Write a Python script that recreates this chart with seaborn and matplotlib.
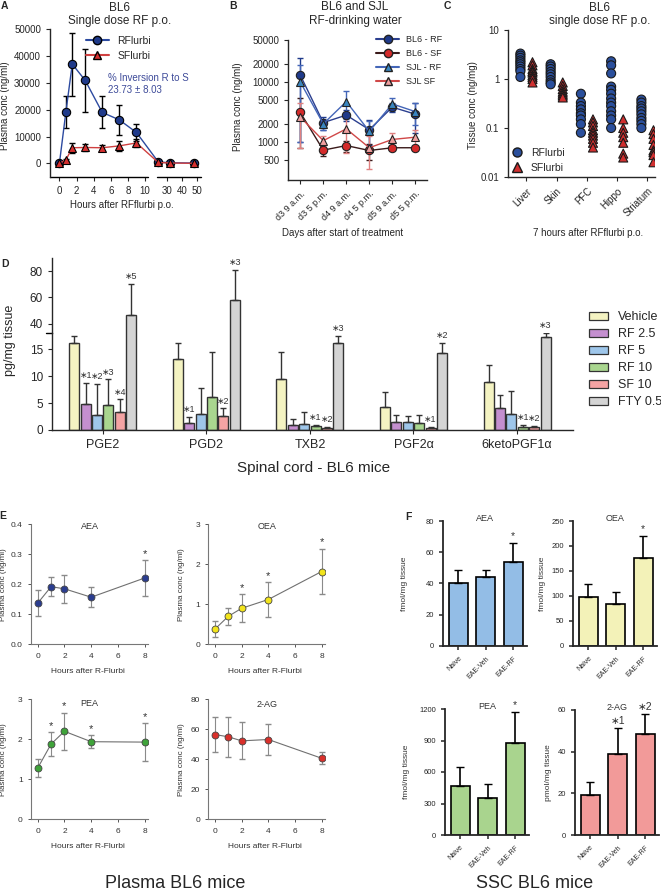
import numpy as np
import pandas as pd
import matplotlib
matplotlib.use("Agg")
import matplotlib.pyplot as plt
import seaborn as sns
from matplotlib.lines import Line2D
from matplotlib.patches import Patch
from matplotlib.ticker import NullLocator

sns.set_style("ticks")
plt.rcParams["font.family"] = ["Liberation Sans", "DejaVu Sans"]
plt.rcParams["axes.linewidth"] = 1.0
plt.rcParams["xtick.major.size"] = 3
plt.rcParams["ytick.major.size"] = 3

# ---- A: single dose, plasma ----
hours_a = [0, 0.75, 1.5, 3, 5, 7, 9, 24, 32, 48]
rf_a = [0, 19000, 37000, 31000, 19000, 16200, 11500, 500, 200, 100]
rf_a_sd = [300, 6000, 11800, 11700, 6000, 5700, 3000, 300, 200, 100]
sf_a = [0, 1200, 5800, 5900, 5800, 6500, 7600, 300, 100, 0]
sf_a_sd = [200, 500, 1800, 1200, 1200, 1800, 1500, 200, 100, 50]

# ---- B: drinking water ----
times_b = ["d3 9 a.m.", "d3 5 p.m.", "d4 9 a.m.", "d4 5 p.m.", "d5 9 a.m.", "d5 5 p.m."]
bl6_rf = [13000, 2100, 2800, 1600, 3800, 2900]
bl6_rf_sd = [12000, 500, 600, 700, 600, 1500]
bl6_sf = [3100, 730, 870, 720, 800, 800]
bl6_sf_sd = [2300, 150, 180, 220, 60, 60]
sjl_rf = [10000, 2000, 4700, 1500, 4300, 3200]
sjl_rf_sd = [9000, 400, 2300, 700, 1000, 1300]
sjl_sf = [2600, 1050, 1650, 800, 1100, 1200]
sjl_sf_sd = [1800, 200, 1000, 450, 300, 400]

# ---- C: tissue, 7 h ----
tissues = ["Liver", "Skin", "PFC", "Hippo", "Striatum"]
liver_r = [3.3, 3.0, 2.7, 2.4, 2.2, 2.0, 1.8, 1.6, 1.45, 1.1]
liver_s = [2.2, 1.9, 1.6, 1.45, 1.35, 1.2, 1.1, 1.0, 0.85]
skin_r = [2.0, 1.8, 1.6, 1.4, 1.25, 1.1, 0.95, 0.85, 0.78]
skin_s = [0.85, 0.72, 0.62, 0.55, 0.5, 0.46, 0.42]
pfc_r = [0.5, 0.33, 0.28, 0.24, 0.2, 0.18, 0.15, 0.12, 0.08]
pfc_s = [0.15, 0.13, 0.11, 0.09, 0.08, 0.07, 0.06, 0.05, 0.04]
hippo_r = [2.3, 1.9, 1.3, 0.7, 0.6, 0.5, 0.4, 0.33, 0.28, 0.22, 0.18, 0.15, 0.1]
hippo_s = [0.15, 0.1, 0.08, 0.065, 0.05, 0.03, 0.025]
striatum_r = [0.38, 0.33, 0.28, 0.25, 0.22, 0.19, 0.16, 0.14, 0.12, 0.1]
striatum_s = [0.09, 0.075, 0.06, 0.045, 0.035, 0.032, 0.028, 0.02]

# ---- D: spinal cord prostanoids ----
analytes = ["PGE2", "PGD2", "TXB2", "PGF2α", "6ketoPGF1α"]
treatments = ["Vehicle", "RF 2.5", "RF 5", "RF 10", "SF 10", "FTY 0.5"]
d_vehicle = [16.2, 13.1, 9.4, 4.2, 9.0]
d_rf25 = [4.8, 1.3, 1.0, 1.5, 4.0]
d_rf5 = [2.8, 2.9, 1.2, 1.4, 3.0]
d_rf10 = [4.7, 6.1, 0.7, 1.3, 0.5]
d_sf10 = [3.4, 2.6, 0.4, 0.4, 0.5]
d_fty = [46.8, 58.0, 16.2, 14.2, 17.3]
d_vehicle_sd = [1.2, 3.1, 5.0, 2.8, 3.0]
d_rf25_sd = [3.9, 1.2, 1.1, 1.3, 2.5]
d_rf5_sd = [5.8, 4.9, 2.2, 1.2, 4.3]
d_rf10_sd = [4.7, 8.3, 0.3, 1.5, 0.4]
d_sf10_sd = [2.3, 1.4, 0.2, 0.2, 0.2]
d_fty_sd = [23.3, 22.8, 1.2, 2.0, 0.7]
d_vehicle_star = ["", "", "", "", ""]
d_rf25_star = ["∗1", "∗1", "", "", ""]
d_rf5_star = ["∗2", "", "", "", ""]
d_rf10_star = ["∗3", "", "∗1", "", "∗1"]
d_sf10_star = ["∗4", "∗2", "∗2", "∗1", "∗2"]
d_fty_star = ["∗5", "∗3", "∗3", "∗2", "∗3"]

# ---- E: plasma endocannabinoids ----
hours_e = [0, 1, 2, 4, 8]
aea_e = [0.137, 0.192, 0.185, 0.157, 0.221]
aea_e_sd = [0.043, 0.032, 0.046, 0.033, 0.059]
aea_e_star = ["", "", "", "", "*"]
oea_e = [0.38, 0.70, 0.90, 1.12, 1.82]
oea_e_sd = [0.20, 0.22, 0.35, 0.43, 0.57]
oea_e_star = ["", "", "*", "*", "*"]
pea_e = [1.28, 1.88, 2.20, 1.94, 1.93]
pea_e_sd = [0.22, 0.30, 0.46, 0.16, 0.47]
pea_e_star = ["", "*", "*", "*", "*"]
ag_e = [56.5, 55.0, 52.3, 53.2, 40.7]
ag_e_sd = [11.8, 13.2, 12.3, 10.5, 4.0]
ag_e_star = ["", "", "", "", ""]

# ---- F: SSC endocannabinoids ----
groups_f = ["Naive", "EAE-Veh", "EAE-RF"]
aea_f = [40, 44, 54]
aea_f_sd = [8.5, 4.5, 12]
aea_f_star = ["", "", "*"]
oea_f = [98, 84, 175]
oea_f_sd = [26, 24, 44]
oea_f_star = ["", "", "*"]
pea_f = [462, 348, 875]
pea_f_sd = [185, 135, 292]
pea_f_star = ["", "", "*"]
ag_f = [19, 39, 48.6]
ag_f_sd = [6.4, 12.5, 9.6]
ag_f_star = ["", "∗1", "∗2"]

W, H = 661, 891
fig = plt.figure(figsize=(W / 100, H / 100), dpi=100)


def place(l, t, r, b):
    return fig.add_axes([l / W, 1 - b / H, (r - l) / W, (b - t) / H])


def ftext(x, y, s, **kw):
    kw.setdefault("ha", "center")
    kw.setdefault("va", "center")
    fig.text(x / W, 1 - y / H, s, **kw)


def anchor(x, y):
    return (x / W, 1 - y / H)


def clean(ax):
    ax.spines[["top", "right"]].set_visible(False)
    ax.set_xlabel("")
    ax.set_ylabel("")


# ================= A =================
axA = place(50, 29.3, 201, 176.7)
for y, sd, mk, fc, lc in [(rf_a, rf_a_sd, "o", "#1f3a8a", "#2c4aa0"),
                          (sf_a, sf_a_sd, "^", "#d63030", "#d04040")]:
    axA.errorbar(hours_a, y, yerr=sd, fmt="none", ecolor="black", elinewidth=1, capsize=2.5, zorder=2)
    sns.lineplot(x=hours_a, y=y, color=lc, marker=mk, markersize=6, markerfacecolor=fc,
                 markeredgecolor="black", markeredgewidth=0.8, lw=1, ax=axA, zorder=3)


def fwd(t):
    t = np.asarray(t, float)
    return np.where(t <= 10.4, t, np.where(t <= 23, 10.4 + (t - 10.4) * 0.0778, 11.38 + (t - 23) * 0.175))


def inv(u):
    u = np.asarray(u, float)
    return np.where(u <= 10.4, u, np.where(u <= 11.38, 10.4 + (u - 10.4) / 0.0778, 23 + (u - 11.38) / 0.175))


axA.set_xscale("function", functions=(fwd, inv))
axA.set_xlim(-1.1, 52.5)
axA.set_ylim(-5000, 50000)
axA.set_xticks([0, 2, 4, 6, 8, 10, 30, 40, 50])
axA.set_xticklabels(["0", "2", "4", "6", "8", "10", "30", "40", "50"])
axA.xaxis.set_minor_locator(NullLocator())
axA.set_yticks([0, 10000, 20000, 30000, 40000, 50000])
axA.tick_params(labelsize=7)
clean(axA)
axA.spines["bottom"].set_visible(False)
for seg in ([-1.1, 10.4], [23, 52.5]):
    axA.plot(seg, [0, 0], transform=axA.get_xaxis_transform(), color="black", lw=1, clip_on=False)
axA.legend(handles=[Line2D([], [], color="#2c4aa0", marker="o", markerfacecolor="#1f3a8a", markeredgecolor="black", markersize=6),
                    Line2D([], [], color="#d04040", marker="^", markerfacecolor="#d63030", markeredgecolor="black", markersize=6)],
           labels=["RFlurbi", "SFlurbi"], loc="upper left", bbox_to_anchor=anchor(86, 36),
           bbox_transform=fig.transFigure, frameon=False, fontsize=7.5, handlelength=2.2,
           borderpad=0, borderaxespad=0, labelspacing=0.45, handletextpad=0.8)
ftext(108, 78, "% Inversion R to S", ha="left", color="#3d4a99", fontsize=7)
ftext(108, 90, "23.73 ± 8.03", ha="left", color="#3d4a99", fontsize=7)
ftext(120, 8, "BL6", fontsize=8.5)
ftext(120, 21, "Single dose RF p.o.", fontsize=8.5)
ftext(122, 205, "Hours after RFflurbi p.o.", fontsize=7)
ftext(5, 106, "Plasma conc (ng/ml)", rotation=90, fontsize=7)
ftext(4, 6, "A", fontsize=7.5, fontweight="bold")

# ================= B =================
axB = place(288.3, 40, 427.3, 180)
idx_b = list(range(len(times_b)))
b_series = [(bl6_rf, bl6_rf_sd, "o", "#1f3a8a", "#2b3f8f", "#1f3a8a"),
            (bl6_sf, bl6_sf_sd, "o", "#d42a2a", "#3a1a1a", "#3a1a1a"),
            (sjl_rf, sjl_rf_sd, "^", "#3a86c0", "#4466b8", "#4466b8"),
            (sjl_sf, sjl_sf_sd, "^", "#f0a0a0", "#d04848", "#e08080")]
for y, sd, mk, fc, lc, ec in b_series:
    axB.errorbar(idx_b, y, yerr=sd, fmt="none", ecolor=ec, elinewidth=1, capsize=2, zorder=2)
    sns.lineplot(x=idx_b, y=y, color=lc, marker=mk, markersize=6, markerfacecolor=fc,
                 markeredgecolor="#222222", markeredgewidth=0.8, lw=1, ax=axB, zorder=3)
axB.set_yscale("log")
axB.set_ylim(232, 50000)
axB.set_xlim(-0.52, 5.52)
yt_b = [500, 1000, 2000, 5000, 10000, 20000, 50000]
axB.set_yticks(yt_b)
axB.set_yticklabels([str(v) for v in yt_b])
axB.yaxis.set_minor_locator(NullLocator())
axB.set_xticks(idx_b)
axB.set_xticklabels(times_b, rotation=45, ha="right", rotation_mode="anchor", fontsize=6.5)
axB.tick_params(axis="y", labelsize=7)
clean(axB)
axB.legend(handles=[Line2D([], [], color=lc, marker=mk, markerfacecolor=fc, markeredgecolor="#222222", markersize=6)
                    for _, _, mk, fc, lc, _ in b_series],
           labels=["BL6 - RF", "BL6 - SF", "SJL - RF", "SJL SF"], loc="upper left",
           bbox_to_anchor=anchor(376, 35), bbox_transform=fig.transFigure, frameon=False,
           fontsize=6.5, handlelength=2.6, borderpad=0, borderaxespad=0, labelspacing=0.55, handletextpad=0.7)
ftext(355, 7, "BL6 and SJL", fontsize=8.5)
ftext(355, 21, "RF-drinking water", fontsize=8.5)
ftext(343, 233, "Days after start of treatment", fontsize=7)
ftext(238, 107, "Plasma conc (ng/ml)", rotation=90, fontsize=7)
ftext(233, 6, "B", fontsize=7.5, fontweight="bold")

# ================= C =================
axC = place(508.3, 30, 655, 177)
rows = []
for t, r, s in zip(tissues, [liver_r, skin_r, pfc_r, hippo_r, striatum_r],
                   [liver_s, skin_s, pfc_s, hippo_s, striatum_s]):
    rows += [(t, "RFlurbi", v) for v in r] + [(t, "SFlurbi", v) for v in s]
dfc = pd.DataFrame(rows, columns=["tissue", "drug", "conc"])
c_pal = {"RFlurbi": "#2a4f9c", "SFlurbi": "#d03030"}
for drug, mk in [("RFlurbi", "o"), ("SFlurbi", "^")]:
    sns.stripplot(data=dfc[dfc.drug == drug], x="tissue", y="conc", hue="drug", order=tissues,
                  hue_order=["RFlurbi", "SFlurbi"], palette=c_pal, dodge=True, jitter=False,
                  marker=mk, size=6.5, linewidth=0.8, edgecolor="#1a1a1a", legend=False, ax=axC)
axC.set_yscale("log")
axC.set_ylim(0.01, 10)
axC.set_xlim(-0.6, 4.25)
axC.set_yticks([0.01, 0.1, 1, 10])
axC.set_yticklabels(["0.01", "0.1", "1", "10"])
axC.yaxis.set_minor_locator(NullLocator())
axC.set_xticks(range(len(tissues)))
axC.set_xticklabels(tissues, rotation=45, ha="right", rotation_mode="anchor", fontsize=7)
axC.tick_params(axis="y", labelsize=7)
clean(axC)
axC.legend(handles=[Line2D([], [], ls="none", marker="o", markerfacecolor="#2a4f9c", markeredgecolor="#1a1a1a", markersize=6.5),
                    Line2D([], [], ls="none", marker="^", markerfacecolor="#d03030", markeredgecolor="#1a1a1a", markersize=6.5)],
           labels=["RFlurbi", "SFlurbi"], loc="upper left", bbox_to_anchor=anchor(512, 148),
           bbox_transform=fig.transFigure, frameon=False, fontsize=7.5, handlelength=1,
           borderpad=0, borderaxespad=0, labelspacing=0.44, handletextpad=0.8)
ftext(600, 8, "BL6", fontsize=8.5)
ftext(600, 21, "single dose RF p.o.", fontsize=8.5)
ftext(588, 233, "7 hours after RFflurbi p.o.", fontsize=7)
ftext(473, 105, "Tissue conc (ng/mg)", rotation=90, fontsize=7)
ftext(447, 6, "C", fontsize=7.5, fontweight="bold")

# ================= D =================
d_vals = [d_vehicle, d_rf25, d_rf5, d_rf10, d_sf10, d_fty]
d_sds = [d_vehicle_sd, d_rf25_sd, d_rf5_sd, d_rf10_sd, d_sf10_sd, d_fty_sd]
d_stars = [d_vehicle_star, d_rf25_star, d_rf5_star, d_rf10_star, d_sf10_star, d_fty_star]
d_colors = ["#f4f3c2", "#c48fcf", "#9ec6ea", "#a9d68f", "#f4a3a3", "#d4d4d4"]
dfd = pd.DataFrame([(a, t, v) for t, vals in zip(treatments, d_vals) for a, v in zip(analytes, vals)],
                   columns=["analyte", "treatment", "value"])
axDl = place(52, 333, 573, 430)
axDu = place(52, 258, 573, 333)
for ax in (axDu, axDl):
    sns.barplot(data=dfd, x="analyte", y="value", hue="treatment", order=analytes, hue_order=treatments,
                palette=d_colors, saturation=1, width=0.66, gap=0.12, edgecolor="#333333",
                linewidth=1, errorbar=None, legend=False, ax=ax)
    bars = sorted(ax.patches, key=lambda p: p.get_x())
    for k, p in enumerate(bars):
        i, j = divmod(k, len(treatments))
        xc = p.get_x() + p.get_width() / 2
        v, sd = d_vals[j][i], d_sds[j][i]
        ax.errorbar([xc], [v], yerr=[[0], [sd]], fmt="none", ecolor="#333333", elinewidth=1, capsize=2.5)
        top = v + sd
        if d_stars[j][i] and ((top > 18) == (ax is axDu)):
            ax.annotate(d_stars[j][i], (xc, top), xytext=(0, 2), textcoords="offset points",
                        ha="center", va="bottom", fontsize=6.5, color="#333333", annotation_clip=False)
    clean(ax)
    ax.set_xlim(-0.49, 4.54)
axDl.set_ylim(0, 18)
axDl.set_yticks([0, 5, 10, 15])
axDl.tick_params(axis="y", labelsize=8.5)
axDl.tick_params(axis="x", labelsize=9)
axDl.spines["top"].set_visible(False)
axDl.plot([-0.012, 0], [1, 1], transform=axDl.transAxes, color="black", lw=1, clip_on=False)
axDu.set_ylim(33, 90)
axDu.set_yticks([40, 60, 80])
axDu.tick_params(axis="y", labelsize=8.5)
axDu.set_xticks([])
axDu.spines["bottom"].set_visible(False)
axDu.patch.set_alpha(0)
axDl.legend(handles=[Patch(facecolor=c, edgecolor="#333333", lw=0.9) for c in d_colors], labels=treatments,
            loc="upper left", bbox_to_anchor=anchor(589, 311), bbox_transform=fig.transFigure,
            frameon=False, fontsize=9, handlelength=1.5, handleheight=0.6, borderpad=0,
            borderaxespad=0, labelspacing=0.4, handletextpad=0.8)
ftext(314, 468, "Spinal cord - BL6 mice", fontsize=11)
ftext(10, 340, "pg/mg tissue", rotation=90, fontsize=9)
ftext(5, 264, "D", fontsize=7.5, fontweight="bold")

# ================= E =================
e_panels = [
    ((31, 524.3, 148, 644.3), aea_e, aea_e_sd, aea_e_star, "#2b3d8f", "AEA", [0, 0.1, 0.2, 0.3, 0.4], "{:.1f}", 0.98),
    ((208.3, 524.3, 325, 644.3), oea_e, oea_e_sd, oea_e_star, "#f2e41c", "OEA", [0, 1, 2, 3], "{:.0f}", 0.98),
    ((31, 699.3, 148, 819.3), pea_e, pea_e_sd, pea_e_star, "#3fa33a", "PEA", [0, 1, 2, 3], "{:.0f}", 0.965),
    ((208.3, 699.3, 325, 819.3), ag_e, ag_e_sd, ag_e_star, "#d9302b", "2-AG", [0, 20, 40, 60, 80], "{:.0f}", 0.96),
]
for (l, t, r, b), vals, sd, stars, col, title, yt, fmt, ty in e_panels:
    ax = place(l, t, r, b)
    ax.errorbar(hours_e, vals, yerr=sd, fmt="none", ecolor="#8a8a8a", elinewidth=0.8, capsize=2, zorder=2)
    sns.lineplot(x=hours_e, y=vals, color="#707070", lw=0.8, marker="o", markersize=5,
                 markerfacecolor=col, markeredgecolor="#444444", markeredgewidth=0.6, ax=ax, zorder=3)
    for x, v, s, st in zip(hours_e, vals, sd, stars):
        if st:
            ax.annotate(st, (x, v + s), xytext=(0, 1), textcoords="offset points", ha="center",
                        va="bottom", fontsize=8, color="#333333", annotation_clip=False)
    ax.set_xlim(-0.5, 8.25)
    ax.set_ylim(yt[0], yt[-1])
    ax.set_xticks([0, 2, 4, 6, 8])
    ax.set_yticks(yt)
    ax.set_yticklabels([fmt.format(v) for v in yt])
    ax.tick_params(labelsize=6, colors="#555555", labelcolor="#333333", length=2.5, width=0.7)
    clean(ax)
    for sp in ("left", "bottom"):
        ax.spines[sp].set_color("#777777")
        ax.spines[sp].set_linewidth(0.8)
    ax.text(0.5, ty, title, transform=ax.transAxes, ha="center", va="center", fontsize=6.5, color="#333333")
    ftext((l + r) / 2 - 2, b + 27.5, "Hours after R-Flurbi", fontsize=6, color="#333333")
    ftext(l - 27, (t + b) / 2, "Plasma conc (ng/ml)", rotation=90, fontsize=5.8, color="#333333")
ftext(3, 516, "E", fontsize=7.5, fontweight="bold")
ftext(175, 884, "Plasma BL6 mice", fontsize=13)

# ================= F =================
f_panels = [
    ((443.3, 521, 527, 645.7), aea_f, aea_f_sd, aea_f_star, "#93bde6", "AEA", [0, 20, 40, 60, 80], "fmol/mg tissue", 405),
    ((573.3, 521, 657, 645.7), oea_f, oea_f_sd, oea_f_star, "#f3f2b8", "OEA", [0, 50, 100, 150, 200, 250], "fmol/mg tissue", 543),
    ((445, 709, 529, 835), pea_f, pea_f_sd, pea_f_star, "#a9d48e", "PEA", [0, 300, 600, 900, 1200], "fmol/mg tissue", 407),
    ((575, 710, 659, 835), ag_f, ag_f_sd, ag_f_star, "#f29a99", "2-AG", [0, 20, 40, 60], "pmol/mg tissue", 548),
]
for (l, t, r, b), vals, sd, stars, col, title, yt, ylab, ylx in f_panels:
    ax = place(l, t, r, b)
    sns.barplot(x=groups_f, y=vals, color=col, saturation=1, width=0.7, edgecolor="black",
                linewidth=1.2, errorbar=None, ax=ax)
    ax.errorbar(range(len(groups_f)), vals, yerr=[np.zeros(len(vals)), sd], fmt="none",
                ecolor="black", elinewidth=1.2, capsize=3)
    for x, v, s, st in zip(range(len(groups_f)), vals, sd, stars):
        if st:
            ax.annotate(st, (x, v + s), xytext=(0, 1.5), textcoords="offset points", ha="center",
                        va="bottom", fontsize=7.5, color="#333333", annotation_clip=False)
    ax.set_xlim(-0.55, 2.5)
    ax.set_ylim(yt[0], yt[-1])
    ax.set_yticks(yt)
    ax.set_xticks(range(len(groups_f)))
    ax.set_xticklabels(groups_f, rotation=45, ha="right", rotation_mode="anchor", fontsize=5)
    ax.tick_params(axis="y", labelsize=5.5)
    ax.tick_params(width=1.1, length=3)
    clean(ax)
    for sp in ("left", "bottom"):
        ax.spines[sp].set_linewidth(1.3)
    ax.text(0.5, 1.02, title, transform=ax.transAxes, ha="center", va="center", fontsize=6.5, color="#333333")
    ftext(ylx, (t + b) / 2, ylab, rotation=90, fontsize=6, color="#333333")
ftext(408, 517, "F", fontsize=7.5, fontweight="bold")
ftext(535, 884, "SSC BL6 mice", fontsize=13)

fig.savefig("out.png", dpi=100)
